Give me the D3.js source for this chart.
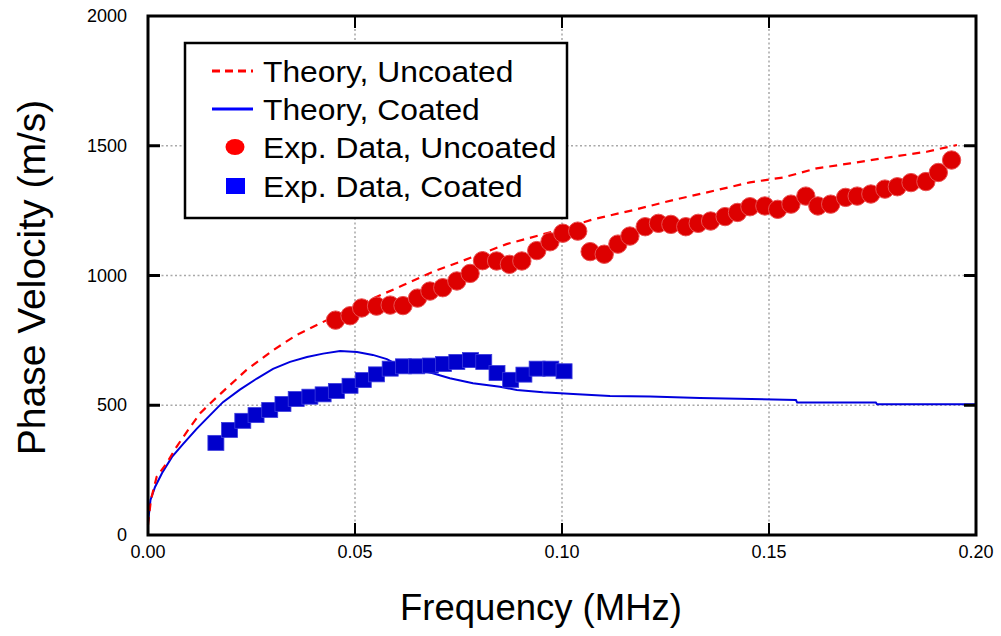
<!DOCTYPE html>
<html>
<head>
<meta charset="utf-8">
<script src="https://cdn.jsdelivr.net/npm/d3@7"></script>
<style>
  body { margin: 0; background: #fff; }
  svg { font-family: "Liberation Sans", Arial, Helvetica, sans-serif; }
</style>
</head>
<body>
<div id="chart"></div>
<script>
// Theory curves
const theoryUncoatedFreq = [0, 0.0007, 0.0021, 0.0045, 0.0069, 0.0097, 0.0126, 0.0150, 0.0190, 0.0238,
  0.0303, 0.0359, 0.0432, 0.0544, 0.0617, 0.0689, 0.0754, 0.0866, 0.0978, 0.1076,
  0.1172, 0.1269, 0.1374, 0.1454, 0.1535, 0.1615, 0.1696, 0.1776, 0.1881, 0.1954];
const theoryUncoatedVel = [38, 135, 225, 276, 340, 405, 469, 507, 566, 636,
  713, 771, 828, 912, 963, 1015, 1053, 1121, 1169, 1217,
  1252, 1291, 1329, 1359, 1378, 1413, 1432, 1452, 1477, 1503];

const theoryCoatedFreq = [0, 0.0002, 0.0006, 0.0017, 0.0034, 0.0058, 0.0085, 0.0118, 0.0150, 0.0181,
  0.0222, 0.0263, 0.0302, 0.0343, 0.0384, 0.0423, 0.0464, 0.0505, 0.0543, 0.0577,
  0.0609, 0.0688, 0.0729, 0.0785, 0.0850, 0.0891, 0.0954, 0.1027, 0.1116, 0.1213,
  0.1333, 0.1565, 0.1568, 0.1758, 0.1761, 0.2000];
const theoryCoatedVel = [50, 77, 135, 185, 239, 301, 351, 410, 462, 512,
  560, 603, 640, 667, 686, 699, 709, 705, 694, 678,
  651, 623, 604, 585, 571, 559, 550, 543, 536, 534,
  528, 520, 511, 511, 504, 504];

// Experimental data
const expUncoatedFreq = [0.0453, 0.0488, 0.0516, 0.0552, 0.0585, 0.0616, 0.0651, 0.0681, 0.0712, 0.0746,
  0.0778, 0.0808, 0.0842, 0.0873, 0.0903, 0.0939, 0.0971, 0.1002, 0.1038, 0.1068,
  0.1102, 0.1135, 0.1164, 0.1201, 0.1233, 0.1263, 0.1299, 0.1329, 0.1359, 0.1394,
  0.1424, 0.1454, 0.1490, 0.1521, 0.1553, 0.1589, 0.1618, 0.1649, 0.1685, 0.1713,
  0.1746, 0.1780, 0.1810, 0.1843, 0.1879, 0.1909, 0.1941];
const expUncoatedVel = [828, 845, 875, 882, 886, 884, 913, 940, 953, 979,
  1008, 1057, 1056, 1043, 1056, 1096, 1130, 1163, 1171, 1092,
  1082, 1121, 1152, 1188, 1201, 1197, 1188, 1201, 1210, 1227,
  1243, 1265, 1268, 1255, 1275, 1306, 1268, 1275, 1301, 1306,
  1314, 1333, 1342, 1358, 1362, 1397, 1445];

const expCoatedFreq = [0.0164, 0.0197, 0.0229, 0.0261, 0.0294, 0.0326, 0.0358, 0.0391, 0.0423, 0.0455,
  0.0488, 0.0520, 0.0552, 0.0585, 0.0617, 0.0649, 0.0682, 0.0714, 0.0746, 0.0779,
  0.0811, 0.0843, 0.0876, 0.0908, 0.0940, 0.0973, 0.1005];
const expCoatedVel = [355, 405, 440, 462, 482, 505, 524, 533, 542, 555,
  575, 597, 619, 641, 650, 650, 653, 659, 667, 674,
  667, 624, 598, 618, 641, 641, 631];

const xTicks = [0, 0.05, 0.10, 0.15, 0.20];
const yTicks = [0, 500, 1000, 1500, 2000];

const legendLabels = ["Theory, Uncoated", "Theory, Coated", "Exp. Data, Uncoated", "Exp. Data, Coated"];

const width = 1001, height = 636;
const margin = { left: 148, right: 25, top: 16, bottom: 101 };

const svg = d3.select("#chart").append("svg")
  .attr("width", width)
  .attr("height", height);

const x = d3.scaleLinear().domain([0, 0.2]).range([margin.left, width - margin.right]);
const y = d3.scaleLinear().domain([0, 2000]).range([height - margin.bottom, margin.top]);

const zip = (a, b) => a.map((d, i) => [d, b[i]]);

// gridlines
const grid = svg.append("g").attr("class", "grid")
  .attr("stroke", "#a8a8a8")
  .attr("stroke-width", 1.5)
  .attr("stroke-dasharray", "2,2.5");

grid.selectAll("line.v")
  .data(xTicks.slice(1, -1))
  .enter().append("line")
  .attr("class", "v")
  .attr("x1", d => x(d)).attr("x2", d => x(d))
  .attr("y1", y(0)).attr("y2", y(2000));

grid.selectAll("line.h")
  .data(yTicks.slice(1, -1))
  .enter().append("line")
  .attr("class", "h")
  .attr("x1", x(0)).attr("x2", x(0.2))
  .attr("y1", d => y(d)).attr("y2", d => y(d));

// theory lines
const line = d3.line().x(d => x(d[0])).y(d => y(d[1]));

svg.append("path")
  .datum(zip(theoryCoatedFreq, theoryCoatedVel))
  .attr("fill", "none")
  .attr("stroke", "#0000dd")
  .attr("stroke-width", 2)
  .attr("d", line);

svg.append("path")
  .datum(zip(theoryUncoatedFreq, theoryUncoatedVel))
  .attr("fill", "none")
  .attr("stroke", "#ff0000")
  .attr("stroke-width", 2.2)
  .attr("stroke-dasharray", "8,6")
  .attr("d", line);

// experimental markers
svg.selectAll("rect.exp")
  .data(zip(expCoatedFreq, expCoatedVel))
  .enter().append("rect")
  .attr("class", "exp")
  .attr("x", d => x(d[0]) - 8)
  .attr("y", d => y(d[1]) - 7.5)
  .attr("width", 16)
  .attr("height", 15)
  .attr("fill", "#0000cc")
  .attr("stroke", "#3b3bdd")
  .attr("stroke-width", 0.8);

svg.selectAll("circle.exp")
  .data(zip(expUncoatedFreq, expUncoatedVel))
  .enter().append("circle")
  .attr("class", "exp")
  .attr("cx", d => x(d[0]))
  .attr("cy", d => y(d[1]))
  .attr("r", 9.2)
  .attr("fill", "#dd0000")
  .attr("stroke", "#e95050")
  .attr("stroke-width", 1);

// frame and inner ticks
const axes = svg.append("g").attr("stroke", "#000");
axes.append("rect")
  .attr("x", x(0)).attr("y", y(2000))
  .attr("width", x(0.2) - x(0)).attr("height", y(0) - y(2000))
  .attr("fill", "none")
  .attr("stroke-width", 3);

const tickLen = 12;
yTicks.slice(1, -1).forEach(v => {
  axes.append("line").attr("x1", x(0)).attr("x2", x(0) + tickLen)
    .attr("y1", y(v)).attr("y2", y(v)).attr("stroke-width", 3);
  axes.append("line").attr("x1", x(0.2)).attr("x2", x(0.2) - tickLen)
    .attr("y1", y(v)).attr("y2", y(v)).attr("stroke-width", 3);
});
xTicks.slice(1, -1).forEach(f => {
  axes.append("line").attr("x1", x(f)).attr("x2", x(f))
    .attr("y1", y(0)).attr("y2", y(0) - tickLen).attr("stroke-width", 2);
  axes.append("line").attr("x1", x(f)).attr("x2", x(f))
    .attr("y1", y(2000)).attr("y2", y(2000) + tickLen).attr("stroke-width", 2);
});

// tick labels
svg.selectAll("text.xt")
  .data(xTicks)
  .enter().append("text")
  .attr("class", "xt")
  .attr("x", d => x(d))
  .attr("y", y(0) + 23)
  .attr("text-anchor", "middle")
  .attr("font-size", 18)
  .text(d => d.toFixed(2));

svg.selectAll("text.yt")
  .data(yTicks)
  .enter().append("text")
  .attr("class", "yt")
  .attr("x", x(0) - 21)
  .attr("y", d => y(d) + 6)
  .attr("text-anchor", "end")
  .attr("font-size", 18)
  .text(d => d);

// axis titles
svg.append("text")
  .attr("x", (x(0) + x(0.2)) / 2 - 21)
  .attr("y", 620)
  .attr("text-anchor", "middle")
  .attr("font-size", 36.5)
  .text("Frequency (MHz)");

svg.append("text")
  .attr("transform", "translate(45," + ((y(0) + y(2000)) / 2 + 2) + ") rotate(-90)")
  .attr("text-anchor", "middle")
  .attr("font-size", 39)
  .text("Phase Velocity (m/s)");

// legend
const legend = svg.append("g").attr("transform", "translate(185,43)");
legend.append("rect")
  .attr("width", 382).attr("height", 175)
  .attr("fill", "#fff")
  .attr("stroke", "#000")
  .attr("stroke-width", 2.5);

const rowY = [28, 66, 104, 143];
const rows = legend.selectAll("g.row")
  .data(legendLabels)
  .enter().append("g")
  .attr("class", "row")
  .attr("transform", (d, i) => "translate(0," + rowY[i] + ")");

rows.append("text")
  .attr("transform", "translate(78,11) scale(1.06,1)")
  .attr("font-size", 30)
  .text(d => d);

rows.filter((d, i) => i === 0).append("line")
  .attr("x1", 27).attr("x2", 68).attr("y1", 0).attr("y2", 0)
  .attr("stroke", "#ff0000").attr("stroke-width", 3)
  .attr("stroke-dasharray", "8,5");
rows.filter((d, i) => i === 1).append("line")
  .attr("x1", 27).attr("x2", 68).attr("y1", 0).attr("y2", 0)
  .attr("stroke", "#0000ff").attr("stroke-width", 3);
rows.filter((d, i) => i === 2).append("ellipse")
  .attr("cx", 50).attr("cy", 0).attr("rx", 9.5).attr("ry", 8)
  .attr("fill", "#ff0000");
rows.filter((d, i) => i === 3).append("rect")
  .attr("x", 41).attr("y", -8).attr("width", 19).attr("height", 16)
  .attr("fill", "#0000ff");
</script>
</body>
</html>
